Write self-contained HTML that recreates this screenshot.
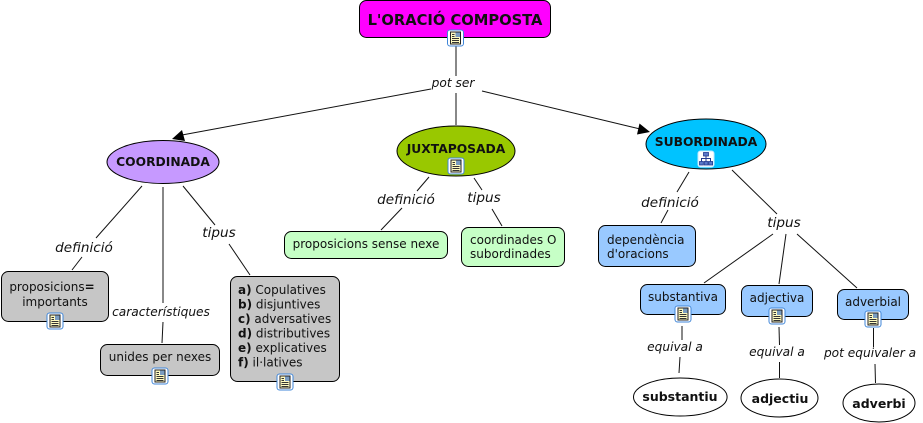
<!DOCTYPE html>
<html><head><meta charset="utf-8"><style>
html,body{margin:0;padding:0;background:#fff}
svg{display:block}
text{font-family:"DejaVu Sans","Liberation Sans",sans-serif;fill:#111}
.n{font-size:12px;text-anchor:middle}
.l{font-size:12px}
.i{font-style:italic;font-size:12.200px;text-anchor:middle}
.b{font-style:italic;font-size:13.600px;text-anchor:middle}
.h{font-weight:bold;font-size:12.300px;text-anchor:middle}
.e{font-weight:bold;font-size:12.500px;text-anchor:middle}
.c line{stroke:#111;stroke-width:1}
.s{stroke:#000;stroke-width:1}
</style></head><body>
<svg width="923" height="423" viewBox="0 0 923 423" xmlns="http://www.w3.org/2000/svg">
<defs>
<g id="doc"><rect x="-8" y="-8" width="16" height="16" rx="2.500" fill="#fff" stroke="#3f86d8" stroke-width="1"/><rect x="-5" y="-6" width="10" height="12" fill="#fffbc0" stroke="#222" stroke-width="1"/><rect x="0" y="-5.500" width="4.500" height="4.500" fill="#7a9cc0"/><path d="M-3.500-3.500h2.500M-3.500-1.500h2.500M-3.500.5h7M-3.500 2.500h7M-3.500 4.500h7" stroke="#333" stroke-width="1"/></g>
<g id="map"><rect x="-8" y="-8" width="16" height="16" rx="2.500" fill="#fff" stroke="#bfe8ff" stroke-width="1"/><path d="M0-3V0M-4.500 3V-.5H4.500V3M0 0V3" stroke="#223a90" fill="none"/><rect x="-2.500" y="-6.500" width="5" height="3.500" fill="#5a78c8" stroke="#223a90" stroke-width=".8"/><rect x="-6.500" y="2.500" width="3.800" height="3.500" fill="#5a78c8" stroke="#223a90" stroke-width=".8"/><rect x="-1.800" y="2.500" width="3.800" height="3.500" fill="#5a78c8" stroke="#223a90" stroke-width=".8"/><rect x="2.800" y="2.500" width="3.800" height="3.500" fill="#5a78c8" stroke="#223a90" stroke-width=".8"/></g>
</defs>
<g class="c">
<line x1="456" y1="46" x2="456" y2="76"/><line x1="456" y1="93" x2="456" y2="125"/>
<line x1="431" y1="89" x2="182" y2="135"/><line x1="482" y1="91" x2="640" y2="129"/>
<line x1="142" y1="186" x2="96" y2="238"/><line x1="82" y1="257" x2="72" y2="270"/>
<line x1="163" y1="187" x2="163" y2="303"/><line x1="163" y1="322" x2="162" y2="343"/>
<line x1="183" y1="186" x2="215" y2="225"/><line x1="229" y1="244" x2="250" y2="275"/>
<line x1="429" y1="177" x2="417" y2="191"/><line x1="402" y1="208" x2="381" y2="230"/>
<line x1="474" y1="178" x2="482" y2="190"/><line x1="492" y1="209" x2="502" y2="226"/>
<line x1="689" y1="172" x2="677" y2="192"/><line x1="668" y1="210" x2="661" y2="223"/>
<line x1="732" y1="170" x2="777" y2="214"/>
<line x1="773" y1="234" x2="704" y2="283"/><line x1="786" y1="234" x2="779" y2="284"/><line x1="797" y1="234" x2="857" y2="288"/>
<line x1="682" y1="326" x2="682" y2="340"/><line x1="680" y1="357" x2="679" y2="373"/>
<line x1="779" y1="327" x2="779.500" y2="345"/><line x1="779.500" y1="362" x2="779.500" y2="378"/>
<line x1="873.500" y1="328" x2="873.500" y2="347"/><line x1="875" y1="364" x2="875.500" y2="383"/>
</g>

<rect class="s" x="359.500" y="0.500" width="191" height="37" rx="7" fill="#ff00ff"/>
<ellipse class="s" cx="163" cy="162" rx="56" ry="21.500" fill="#c699ff"/>
<ellipse class="s" cx="456" cy="151" rx="59" ry="25" fill="#99c800"/>
<ellipse class="s" cx="706" cy="144" rx="60" ry="25" fill="#00c3ff"/>
<rect class="s" x="1.500" y="271.500" width="107" height="50" rx="7" fill="#c6c6c6"/>
<rect class="s" x="100.500" y="344.500" width="119" height="31" rx="7" fill="#c6c6c6"/>
<rect class="s" x="230.500" y="276.500" width="109" height="105" rx="7" fill="#c6c6c6"/>
<rect class="s" x="284.500" y="231.500" width="163" height="27" rx="7" fill="#c6ffc6"/>
<rect class="s" x="461.500" y="227.500" width="103" height="39" rx="7" fill="#c6ffc6"/>
<rect class="s" x="598.500" y="225.500" width="97" height="41" rx="7" fill="#99c9ff"/>
<rect class="s" x="640.500" y="284.500" width="85" height="30" rx="7" fill="#99c9ff"/>
<rect class="s" x="741.500" y="285.500" width="71" height="31" rx="7" fill="#99c9ff"/>
<rect class="s" x="837.500" y="289.500" width="71" height="30" rx="7" fill="#99c9ff"/>
<ellipse class="s" cx="680.300" cy="397" rx="46.800" ry="19" fill="#fff"/>
<ellipse class="s" cx="779.500" cy="398" rx="38.500" ry="19" fill="#fff"/>
<ellipse class="s" cx="879" cy="403" rx="36" ry="19" fill="#fff"/>

<polygon points="172,139 182,130 185,141" fill="#000"/>
<polygon points="650,132 639.500,123.500 637,134.500" fill="#000"/>

<use href="#doc" x="455.500" y="38"/><use href="#doc" x="456" y="166"/>
<use href="#doc" x="55" y="321"/><use href="#doc" x="160" y="376"/><use href="#doc" x="285" y="382"/>
<use href="#doc" x="683" y="314"/><use href="#doc" x="777" y="316"/><use href="#doc" x="873" y="319"/>
<use href="#map" x="706" y="159"/>

<text x="455" y="25" text-anchor="middle" style="font-weight:bold;font-size:14.700px">L'ORACIÓ COMPOSTA</text>
<text class="i" x="453" y="87">pot ser</text>
<text class="h" x="163" y="166">COORDINADA</text>
<text class="h" x="456" y="153">JUXTAPOSADA</text>
<text class="h" x="706" y="146">SUBORDINADA</text>
<text class="b" x="84" y="252">definició</text>
<text class="b" x="219" y="237">tipus</text>
<text class="i" x="161" y="316">característiques</text>
<text class="b" x="406" y="204">definició</text>
<text class="b" x="484" y="202">tipus</text>
<text class="b" x="670" y="207">definició</text>
<text class="b" x="784" y="227">tipus</text>
<text class="i" x="675" y="351">equival a</text>
<text class="i" x="777" y="356">equival a</text>
<text class="i" x="870" y="357">pot equivaler a</text>
<text class="n" x="52" y="291">proposicions<tspan font-weight="bold">=</tspan></text>
<text class="n" x="55" y="306">importants</text>
<text class="n" x="160" y="361">unides per nexes</text>
<text class="l" x="238" y="294"><tspan font-weight="bold">a)</tspan> Copulatives</text>
<text class="l" x="238" y="308.500"><tspan font-weight="bold">b)</tspan> disjuntives</text>
<text class="l" x="238" y="323"><tspan font-weight="bold">c)</tspan> adversatives</text>
<text class="l" x="238" y="337.500"><tspan font-weight="bold">d)</tspan> distributives</text>
<text class="l" x="238" y="352"><tspan font-weight="bold">e)</tspan> explicatives</text>
<text class="l" x="238" y="366.500"><tspan font-weight="bold">f)</tspan> il·latives</text>
<text class="n" x="366" y="248">proposicions sense nexe</text>
<text class="l" x="470" y="244">coordinades O</text>
<text class="l" x="470" y="258">subordinades</text>
<text class="l" x="607" y="244">dependència</text>
<text class="l" x="607" y="258">d'oracions</text>
<text class="n" x="683" y="301">substantiva</text>
<text class="n" x="777" y="302">adjectiva</text>
<text class="n" x="873" y="306">adverbial</text>
<text class="e" x="680" y="401">substantiu</text>
<text class="e" x="780" y="403">adjectiu</text>
<text class="e" x="879" y="408">adverbi</text>
</svg>
</body></html>
